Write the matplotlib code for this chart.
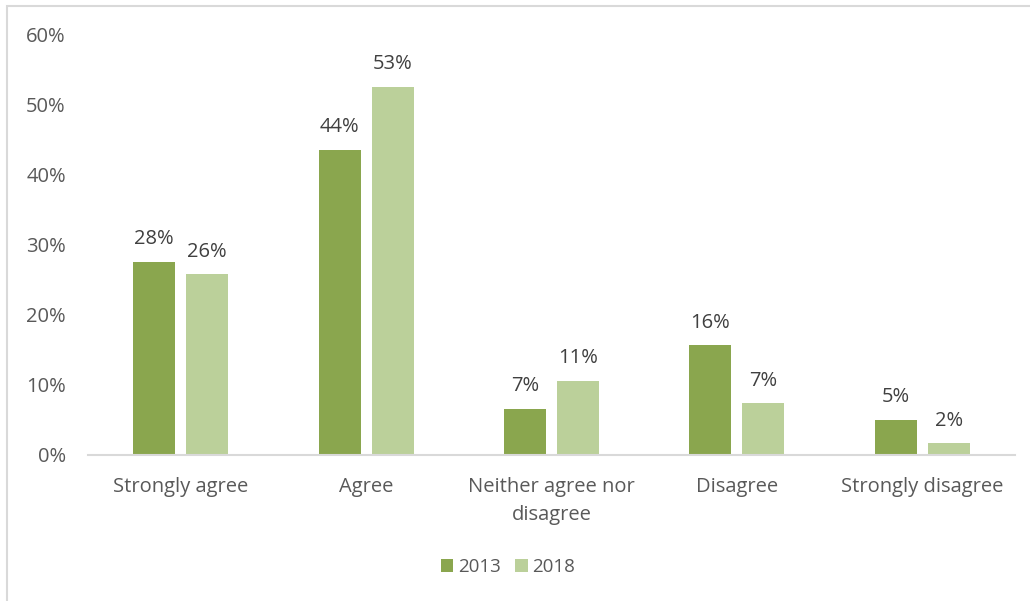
import matplotlib
matplotlib.use("Agg")
import matplotlib.pyplot as plt
from matplotlib.patches import Rectangle
import numpy as np

categories = ["Strongly agree", "Agree", "Neither agree nor\ndisagree", "Disagree", "Strongly disagree"]
series_names = ["2013", "2018"]
values_2013 = [27.6, 43.6, 6.6, 15.7, 5.0]
values_2018 = [25.8, 52.6, 10.6, 7.4, 1.7]
y_ticks = [0, 10, 20, 30, 40, 50, 60]

dark_green = "#8AA64E"
light_green = "#BBD09A"
text_color = "#595959"
label_color = "#404040"

plt.rcParams["font.family"] = ["Open Sans", "DejaVu Sans"]
FS = 14.5

W, H = 1030, 601
fig = plt.figure(figsize=(W / 100, H / 100), dpi=100)
ax = fig.add_axes([88 / W, 1 - 455 / H, (1015 - 88) / W, (455 - 35) / H])

x = np.arange(len(categories))
width = 0.227
offset = 0.143
bars1 = ax.bar(x - offset, values_2013, width, color=dark_green, label=series_names[0], zorder=2)
bars2 = ax.bar(x + offset, values_2018, width, color=light_green, label=series_names[1], zorder=2)

for bars in (bars1, bars2):
    for b in bars:
        v = b.get_height()
        ax.annotate(f"{v:.0f}%", (b.get_x() + b.get_width() / 2, v),
                    xytext=(0, 9), textcoords="offset points",
                    ha="center", va="bottom", fontsize=FS, color=label_color)

ax.set_xlim(-0.5, len(categories) - 0.5)
ax.set_ylim(0, 60)
ax.set_yticks(y_ticks)
ax.set_yticklabels([f"{t}%" for t in y_ticks])
ax.set_xticks(x)
ax.set_xticklabels(categories, linespacing=1.55)
ax.tick_params(axis="both", length=0, labelsize=FS, labelcolor=text_color)
ax.tick_params(axis="y", pad=16)
ax.tick_params(axis="x", pad=15.5)

for side in ("top", "right", "left"):
    ax.spines[side].set_visible(False)
ax.spines["bottom"].set_color("#D9D9D9")
ax.spines["bottom"].set_linewidth(1.5)

leg = fig.legend(handles=[bars1, bars2], labels=series_names, loc="center",
                 bbox_to_anchor=(508 / W, 1 - 567 / H), ncol=2, frameon=False,
                 fontsize=13.5, handlelength=0.65, handleheight=0.65,
                 handletextpad=0.25, columnspacing=0.8)
for t in leg.get_texts():
    t.set_color(text_color)

fig.patches.append(Rectangle((7 / W, -0.05), 1.0, 1 - 6 / H + 0.05,
                             transform=fig.transFigure, fill=False,
                             edgecolor="#D9D9D9", linewidth=1.5))

fig.savefig("out.png", dpi=100, facecolor="white")
